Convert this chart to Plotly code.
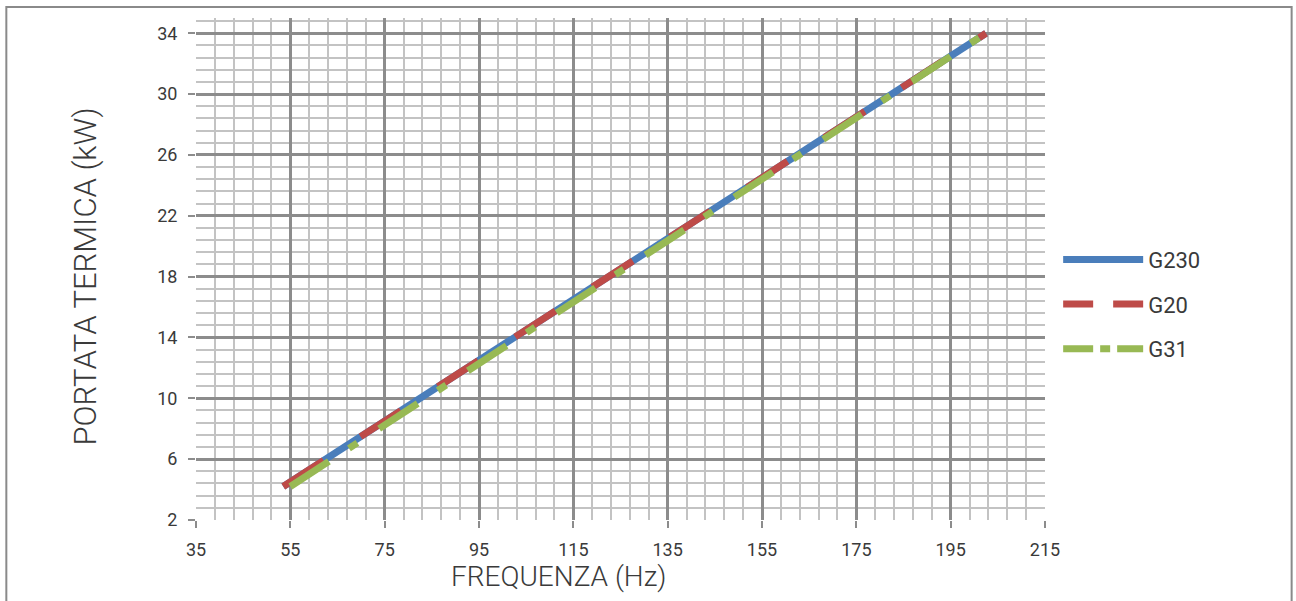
import plotly.graph_objects as go

# Data
series_names = ["G230", "G20", "G31"]
g230_freq = [53.5, 202.5]
g230_power = [4.2, 34.0]
g20_freq = [53.5, 202.5]
g20_power = [4.2, 34.0]
g31_freq = [55.0, 202.5]
g31_power = [4.2, 34.0]

x_ticks = [35, 55, 75, 95, 115, 135, 155, 175, 195, 215]
y_ticks = [2, 6, 10, 14, 18, 22, 26, 30, 34]
x_title = "FREQUENZA (Hz)"
y_title = "PORTATA TERMICA (kW)"

colors = {"G230": "#4a7ebb", "G20": "#be4b48", "G31": "#98b954"}
dashes = {"G230": "solid", "G20": "48px,44px", "G31": "46px,24px,10px,26px"}
legend_dashes = {"G230": "solid", "G20": "30px,20px", "G31": "30px,7px,10px,7px"}
data = {
    "G230": (g230_freq, g230_power),
    "G20": (g20_freq, g20_power),
    "G31": (g31_freq, g31_power),
}

FONT = "Roboto, 'DejaVu Sans', sans-serif"
TXT = "#3a3a3a"
MAJ = "#8c8c8c"
MIN = "#c3c3c3"

fig = go.Figure()
for name in series_names:
    xs, ys = data[name]
    fig.add_trace(go.Scatter(
        x=xs, y=ys, mode="lines", name=name, legendgroup=name, showlegend=False,
        line=dict(color=colors[name], width=7, dash=dashes[name]),
    ))
# legend entries (same series, legend-specific dash rhythm)
for name in series_names:
    fig.add_trace(go.Scatter(
        x=[None], y=[None], mode="lines", name=name, legendgroup=name, showlegend=True,
        line=dict(color=colors[name], width=7, dash=legend_dashes[name]),
    ))

fig.update_xaxes(
    range=[35, 215], tickvals=x_ticks, ticktext=[str(v) for v in x_ticks],
    showgrid=True, gridcolor=MAJ, gridwidth=2.5,
    minor=dict(dtick=4, tick0=35, showgrid=True, gridcolor=MIN, gridwidth=2),
    ticks="outside", ticklen=7, tickwidth=2, tickcolor=MAJ,
    showline=False, zeroline=False, automargin=False,
    tickfont=dict(family=FONT, size=18, color=TXT),
    ticklabelstandoff=6,
)
fig.update_yaxes(
    range=[2, 35], tickvals=y_ticks, ticktext=[str(v) for v in y_ticks],
    showgrid=True, gridcolor=MAJ, gridwidth=2.5,
    minor=dict(dtick=0.8, tick0=2, showgrid=True, gridcolor=MIN, gridwidth=2),
    ticks="outside", ticklen=7, tickwidth=2, tickcolor=MAJ,
    showline=False, zeroline=False, automargin=False,
    tickfont=dict(family=FONT, size=18, color=TXT),
    ticklabelstandoff=7,
)

fig.update_layout(
    width=1296, height=601,
    margin=dict(l=196, r=251, t=18, b=81, autoexpand=False),
    paper_bgcolor="white", plot_bgcolor="white",
    font=dict(family=FONT, color=TXT),
    legend=dict(
        x=1.0155, y=0.43, xanchor="left", yanchor="middle",
        font=dict(family=FONT, size=22, color=TXT),
        itemwidth=80, tracegroupgap=13, traceorder="grouped",
        bgcolor="rgba(0,0,0,0)",
    ),
    annotations=[
        dict(text=x_title, xref="paper", yref="paper", x=0.4272, y=-0.1116,
             xanchor="center", yanchor="middle", showarrow=False,
             font=dict(family=FONT, size=28, color=TXT, weight=300)),
        dict(text=y_title, xref="paper", yref="paper", x=-0.1302, y=0.486,
             xanchor="center", yanchor="middle", showarrow=False, textangle=-90,
             font=dict(family=FONT, size=31, color=TXT, weight=300)),
    ],
    shapes=[dict(
        type="rect", xref="paper", yref="paper",
        x0=-0.2234, x1=1.2905, y0=-0.2, y1=1.022,
        line=dict(color="#8a8a8a", width=2), fillcolor="rgba(0,0,0,0)", layer="below",
    )],
)

fig.write_html(
    "out.html",
    config={"displayModeBar": False},
    post_script="document.body.style.margin='0';document.body.style.padding='0';document.body.style.overflow='hidden';",
)
